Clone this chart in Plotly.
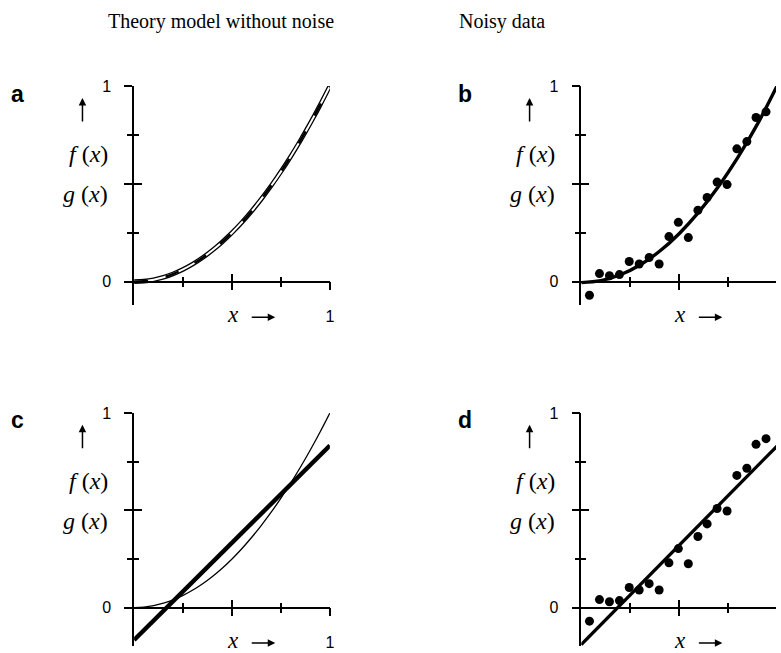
import plotly.graph_objects as go

W, H = 781, 653

# Noise-free theory curve g(x) (the model f(x) coincides with it in panel a)
theory_x = [0.0, 0.05, 0.1, 0.15, 0.2, 0.25, 0.3, 0.35, 0.4, 0.45, 0.5,
            0.55, 0.6, 0.65, 0.7, 0.75, 0.8, 0.85, 0.9, 0.95, 1.0]
theory_y = [0.0, 0.0025, 0.01, 0.0225, 0.04, 0.0625, 0.09, 0.1225, 0.16, 0.2025, 0.25,
            0.3025, 0.36, 0.4225, 0.49, 0.5625, 0.64, 0.7225, 0.81, 0.9025, 1.0]

# Quadratic model fitted to the noisy data
fit_x = [0.0, 0.1, 0.2, 0.3, 0.4, 0.5, 0.6, 0.7, 0.8, 0.9, 1.0]
fit_y = [-0.005, 0.005, 0.035, 0.085, 0.155, 0.245, 0.355, 0.485, 0.635, 0.805, 1.0]

# Noisy measurements
noisy_x = [0.042, 0.093, 0.144, 0.195, 0.245, 0.296, 0.347, 0.398, 0.448, 0.496,
           0.547, 0.596, 0.643, 0.694, 0.745, 0.795, 0.846, 0.893, 0.944]
noisy_y = [-0.07, 0.041, 0.030, 0.036, 0.103, 0.090, 0.123, 0.090, 0.230, 0.303,
           0.225, 0.365, 0.430, 0.509, 0.496, 0.679, 0.716, 0.839, 0.868]

# Straight-line models
line_c_x = [0.0, 1.0]
line_c_y = [-0.167, 0.833]
line_d_x = [0.0, 1.0]
line_d_y = [-0.19, 0.83]

panel_letters = ["a", "b", "c", "d"]
column_titles = ["Theory model without noise", "Noisy data"]
y_tick_vals = [0, 0.5, 1]
y_tick_text = ["0", "", "1"]
x_tick_vals = [0.5, 1]
x_tick_text = ["", "1"]
minor_vals = [0.25, 0.75]

SERIF = "Liberation Serif"
SANS = "Liberation Sans"

# pixel frame of each panel: x=0 / x=1 columns, y=1 / y=0 rows, lower y limit
panels = {
    1: dict(left=135, right=332, top=79, zero=277, ymin=-0.12),
    2: dict(left=585, right=782, top=79, zero=277, ymin=-0.12),
    3: dict(left=135, right=332, top=410, zero=607, ymin=-0.2),
    4: dict(left=585, right=782, top=410, zero=607, ymin=-0.2),
}


def fx(p):
    return p / W


def fy(p):
    return 1 - p / H


def ax_name(prefix, k):
    return prefix if k == 1 else f"{prefix}{k}"


fig = go.Figure()

# panel a: model and theory on top of each other
fig.add_trace(go.Scatter(x=theory_x, y=theory_y, mode="lines", line=dict(color="black", width=4.6, shape="spline"),
                         xaxis="x", yaxis="y"))
fig.add_trace(go.Scatter(x=theory_x, y=theory_y, mode="lines", line=dict(color="white", width=2.0, shape="spline"),
                         xaxis="x", yaxis="y"))
fig.add_trace(go.Scatter(x=theory_x, y=theory_y, mode="lines",
                         line=dict(color="black", width=2.4, shape="spline", dash="14px,18px"),
                         xaxis="x", yaxis="y"))

# panel b: noisy data with quadratic fit
fig.add_trace(go.Scatter(x=fit_x, y=fit_y, mode="lines", line=dict(color="black", width=3.4, shape="spline"),
                         xaxis="x2", yaxis="y2"))
fig.add_trace(go.Scatter(x=noisy_x, y=noisy_y, mode="markers", marker=dict(color="black", size=9),
                         xaxis="x2", yaxis="y2", cliponaxis=False))

# panel c: theory with straight-line model
fig.add_trace(go.Scatter(x=theory_x, y=theory_y, mode="lines", line=dict(color="black", width=1.3, shape="spline"),
                         xaxis="x3", yaxis="y3"))
fig.add_trace(go.Scatter(x=line_c_x, y=line_c_y, mode="lines", line=dict(color="black", width=4.4),
                         xaxis="x3", yaxis="y3"))

# panel d: noisy data with straight-line fit
fig.add_trace(go.Scatter(x=line_d_x, y=line_d_y, mode="lines", line=dict(color="black", width=3.3),
                         xaxis="x4", yaxis="y4"))
fig.add_trace(go.Scatter(x=noisy_x, y=noisy_y, mode="markers", marker=dict(color="black", size=9),
                         xaxis="x4", yaxis="y4", cliponaxis=False))

layout = {}
annotations = []
for k, p in panels.items():
    unit = p["zero"] - p["top"]
    bottom = p["zero"] + (-p["ymin"]) * unit
    xmax = min(1.0, (W - p["left"]) / (p["right"] - p["left"]))
    xdom = [fx(p["left"]), fx(p["left"] + xmax * (p["right"] - p["left"]))]
    ydom = [fy(bottom), fy(p["top"])]
    xpos = fy(p["zero"])
    common_x = dict(range=[0, xmax], showgrid=False, zeroline=False, fixedrange=True)
    common_y = dict(range=[p["ymin"], 1], showgrid=False, zeroline=False, fixedrange=True)
    # main axes: line, outward ticks and labels
    layout[ax_name("xaxis", k)] = dict(
        common_x, domain=xdom, anchor="free", position=xpos,
        showline=True, linecolor="black", linewidth=1.5,
        ticks="outside", ticklen=8, tickwidth=1.5, tickcolor="black",
        tickmode="array", tickvals=x_tick_vals, ticktext=x_tick_text,
        tickfont=dict(family=SANS, size=16, color="black"), ticklabelstandoff=12,
        minor=dict(tickmode="array", tickvals=minor_vals, ticks="outside", ticklen=5,
                   tickwidth=1.5, tickcolor="black", showgrid=False),
    )
    layout[ax_name("yaxis", k)] = dict(
        common_y, domain=ydom, anchor=ax_name("x", k),
        showline=True, linecolor="black", linewidth=1.5,
        ticks="outside", ticklen=8, tickwidth=1.5, tickcolor="black",
        tickmode="array", tickvals=y_tick_vals, ticktext=y_tick_text,
        tickfont=dict(family=SANS, size=16, color="black"), ticklabelstandoff=10,
        minor=dict(tickmode="array", tickvals=minor_vals, ticks="outside", ticklen=5,
                   tickwidth=1.5, tickcolor="black", showgrid=False),
    )
    # overlay axes: inward halves of the crossing ticks
    o = k + 4
    layout[f"xaxis{o}"] = dict(
        common_x, overlaying=ax_name("x", k), anchor="free", position=xpos,
        showline=False, showticklabels=False,
        ticks="inside", ticklen=8, tickwidth=1.5, tickcolor="black",
        tickmode="array", tickvals=x_tick_vals,
        minor=dict(tickmode="array", tickvals=minor_vals, ticks="inside", ticklen=5,
                   tickwidth=1.5, tickcolor="black", showgrid=False),
    )
    layout[f"yaxis{o}"] = dict(
        common_y, overlaying=ax_name("y", k), anchor=f"x{o}",
        showline=False, showticklabels=False,
        ticks="inside", ticklen=8, tickwidth=1.5, tickcolor="black",
        tickmode="array", tickvals=y_tick_vals,
        minor=dict(tickmode="array", tickvals=minor_vals, ticks="inside", ticklen=5,
                   tickwidth=1.5, tickcolor="black", showgrid=False),
    )
    fig.add_trace(go.Scatter(x=[None], y=[None], xaxis=f"x{o}", yaxis=f"y{o}", hoverinfo="skip"))

    # axis labels, placed relative to the panel frame (pixel offsets)
    ax0, ay1, ay0 = p["left"], p["top"], p["zero"]
    # vertical arrow next to the y label
    annotations.append(dict(x=fx(ax0 - 52), y=fy(ay1 + 12), xref="paper", yref="paper",
                            ax=0, ay=25, text="", showarrow=True, arrowhead=2, arrowsize=1,
                            arrowwidth=1.5, arrowcolor="black"))
    annotations.append(dict(x=fx(ax0 - 24), y=fy(ay1 + 69), xref="paper", yref="paper",
                            xanchor="right", yanchor="middle",
                            text="<i>f</i> (<i>x</i>)", showarrow=False,
                            font=dict(family=SERIF, size=24, color="black")))
    annotations.append(dict(x=fx(ax0 - 24), y=fy(ay1 + 109), xref="paper", yref="paper",
                            xanchor="right", yanchor="middle",
                            text="<i>g</i> (<i>x</i>)", showarrow=False,
                            font=dict(family=SERIF, size=24, color="black")))
    # x label with arrow
    annotations.append(dict(x=fx(ax0 + 99), y=fy(ay0 + 33), xref="paper", yref="paper",
                            xanchor="center", yanchor="middle",
                            text="<i>x</i>", showarrow=False,
                            font=dict(family=SERIF, size=23, color="black")))
    annotations.append(dict(x=fx(ax0 + 142), y=fy(ay0 + 36), xref="paper", yref="paper",
                            ax=-25, ay=0, text="", showarrow=True, arrowhead=2, arrowsize=1,
                            arrowwidth=1.5, arrowcolor="black"))

# panel letters
letter_pos = {"a": (18, 87), "b": (468, 87), "c": (18, 417), "d": (468, 417)}
for letter in panel_letters:
    px, py = letter_pos[letter]
    annotations.append(dict(x=fx(px), y=fy(py), xref="paper", yref="paper", xanchor="center", yanchor="middle",
                            text=f"<b>{letter}</b>", showarrow=False,
                            font=dict(family=SANS, size=23, color="black")))

# column titles
for title, cx in zip(column_titles, [222, 505]):
    annotations.append(dict(x=fx(cx), y=fy(14), xref="paper", yref="paper", xanchor="center", yanchor="middle",
                            text=title, showarrow=False,
                            font=dict(family=SERIF, size=20, color="black")))

fig.update_layout(
    **layout,
    annotations=annotations,
    width=W, height=H,
    margin=dict(l=0, r=0, t=0, b=0),
    paper_bgcolor="white", plot_bgcolor="white",
    showlegend=False,
)

fig.write_html("out.html", config={"displayModeBar": False})
